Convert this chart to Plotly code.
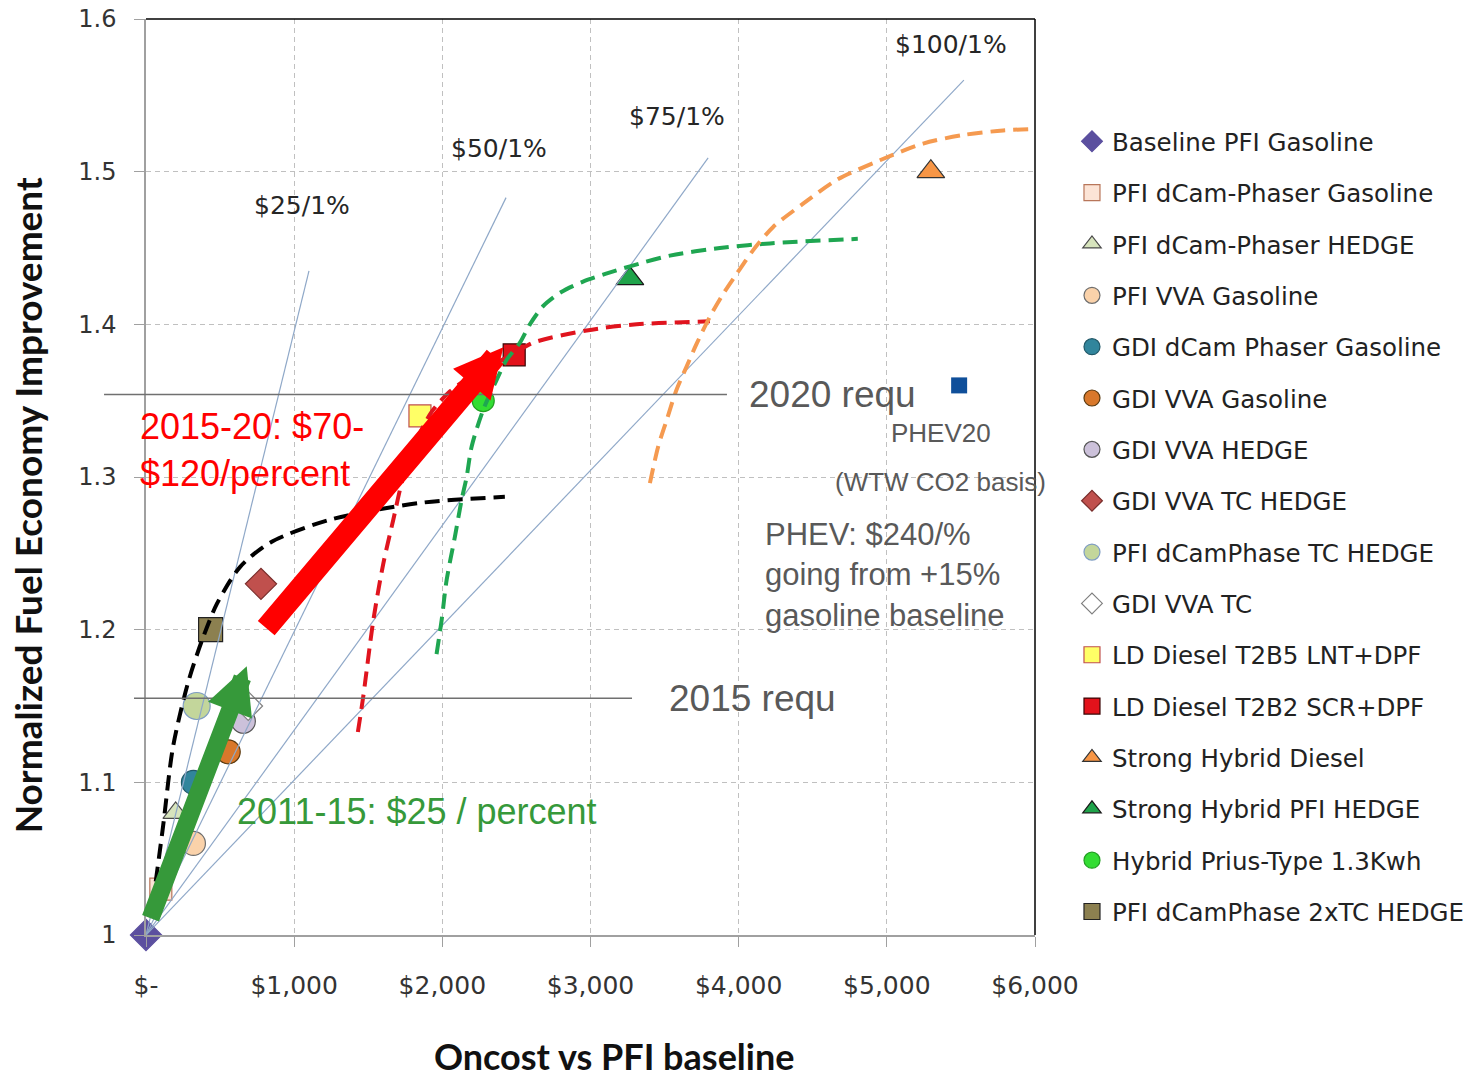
import plotly.graph_objects as go

# technology points
tech_names = [
    "Baseline PFI Gasoline", "PFI dCam-Phaser Gasoline", "PFI dCam-Phaser HEDGE",
    "PFI VVA Gasoline", "GDI dCam Phaser Gasoline", "GDI VVA Gasoline", "GDI VVA HEDGE",
    "GDI VVA TC HEDGE", "PFI dCamPhase TC HEDGE", "GDI VVA TC", "LD Diesel T2B5 LNT+DPF",
    "LD Diesel T2B2 SCR+DPF", "Strong Hybrid Diesel", "Strong Hybrid PFI HEDGE",
    "Hybrid Prius-Type 1.3Kwh", "PFI dCamPhase 2xTC HEDGE",
]
tech_cost = [0, 100, 200, 320, 320, 555, 657, 776, 342, 690, 1849, 2485, 5297, 3266, 2276, 436]
tech_fe = [1.00, 1.03, 1.08, 1.06, 1.10, 1.12, 1.14, 1.23, 1.15, 1.15, 1.34, 1.38, 1.50, 1.43, 1.35, 1.20]

phev_cost = [5488]
phev_fe = [1.36]

# constant cost-per-percent reference lines (start at baseline)
cpp_labels = ["$25/1%", "$50/1%", "$75/1%", "$100/1%"]
cpp_end_cost = [1100, 2430, 3794, 5520]
cpp_end_fe = [1.435, 1.483, 1.509, 1.560]
cpp_label_cost = [1053, 2382, 3583, 5432]
cpp_label_fe = [1.478, 1.515, 1.536, 1.583]

# dashed trend curves
black_x = [45, 115, 182, 283, 378, 479, 634, 837, 1241, 1849, 2422]
black_y = [1.02, 1.071, 1.123, 1.165, 1.193, 1.217, 1.241, 1.257, 1.272, 1.283, 1.287]
red_x = [1430, 1466, 1534, 1601, 1669, 1736, 1830, 1930, 2050, 2166, 2485, 2614, 2974, 3311, 3806]
red_y = [1.133, 1.156, 1.206, 1.243, 1.272, 1.300, 1.325, 1.343, 1.356, 1.364, 1.381, 1.388, 1.396, 1.400, 1.402]
green_x = [1961, 1995, 2029, 2085, 2130, 2164, 2198, 2276, 2366, 2433, 2524, 2591, 2681, 2800, 2950,
           3100, 3266, 3536, 3873, 4211, 4804]
green_y = [1.184, 1.206, 1.2325, 1.261, 1.285, 1.300, 1.320, 1.344, 1.3635, 1.3766, 1.388, 1.400, 1.412,
           1.421, 1.428, 1.433, 1.438, 1.445, 1.450, 1.453, 1.456]
orange_x = [3401, 3457, 3513, 3580, 3647, 3715, 3806, 3896, 3986, 4098, 4233, 4435, 4660, 4953, 5245,
            5515, 5785, 6010]
orange_y = [1.296, 1.320, 1.337, 1.357, 1.372, 1.387, 1.405, 1.420, 1.433, 1.4486, 1.4638, 1.479, 1.4945,
            1.5075, 1.5184, 1.524, 1.527, 1.528]

# requirement levels
req_labels = ["2015 requ", "2020 requ"]
req_fe = [1.155, 1.354]

# arrows: (tail cost, tail fe) -> (tip cost, tip fe)
green_arrow = [27, 1.01, 680, 1.176]
red_arrow = [803, 1.20, 2412, 1.385]

x_tick_vals = [0, 1000, 2000, 3000, 4000, 5000, 6000]
x_tick_text = ["$-", "$1,000", "$2,000", "$3,000", "$4,000", "$5,000", "$6,000"]
y_tick_vals = [1.0, 1.1, 1.2, 1.3, 1.4, 1.5, 1.6]
y_tick_text = ["1", "1.1", "1.2", "1.3", "1.4", "1.5", "1.6"]

# marker styles, in legend order: symbol, size, fill, outline
styles = [
    ("diamond", 24, "#5B4F9F", "#5B4F9F"),
    ("square", 22, "#FCE4D6", "#B8765A"),
    ("triangle-up", 22, "#D7E4BD", "#4A4A4A"),
    ("circle", 24, "#FAD2AA", "#6E6E6E"),
    ("circle", 24, "#31859C", "#215868"),
    ("circle", 24, "#D9782B", "#5A3A10"),
    ("circle", 24, "#CCC1DA", "#555555"),
    ("diamond", 24, "#C0504D", "#7A2E2C"),
    ("circle", 27, "#C3D69B", "#7F9DC3"),
    ("diamond", 22, "#FFFFFF", "#808080"),
    ("square", 22, "#FFFF66", "#C0504D"),
    ("square", 22, "#E3121B", "#3A0505"),
    ("triangle-up", 24, "#F79646", "#333333"),
    ("triangle-up", 24, "#1FA34A", "#1A1A1A"),
    ("circle", 22, "#33DD33", "#22A022"),
    ("square", 24, "#8C8050", "#222222"),
]

fig = go.Figure()

for i, name in enumerate(tech_names):
    sym, size, fill, edge = styles[i]
    fig.add_trace(go.Scatter(
        x=[tech_cost[i]], y=[tech_fe[i]], mode="markers", name=name,
        legendgroup=name, cliponaxis=False,
        marker=dict(symbol=sym, size=size, color=fill, line=dict(color=edge, width=1.2)),
    ))

fig.add_trace(go.Scatter(x=phev_cost, y=phev_fe, mode="markers", showlegend=False,
                         marker=dict(symbol="square", size=16, color="#0F4F9A")))

for i in range(len(cpp_labels)):
    fig.add_trace(go.Scatter(x=[0, cpp_end_cost[i]], y=[1.0, cpp_end_fe[i]], mode="lines",
                             showlegend=False, line=dict(color="#8FA8C8", width=1.2)))

dash = "15px,8px"
for xs, ys, col in [(black_x, black_y, "#000000"), (red_x, red_y, "#E0141E"),
                    (green_x, green_y, "#1FA651"), (orange_x, orange_y, "#F59A50")]:
    fig.add_trace(go.Scatter(x=xs, y=ys, mode="lines", showlegend=False,
                             line=dict(color=col, width=4, dash=dash, shape="spline", smoothing=0.8)))

annotations = []
for i, lab in enumerate(cpp_labels):
    annotations.append(dict(x=cpp_label_cost[i], y=cpp_label_fe[i], text=lab, showarrow=False,
                            font=dict(family="DejaVu Sans", size=25, color="#262626")))

for arr, col, w, head in [(green_arrow, "#36993A", 18, 9.4), (red_arrow, "#FF0000", 22, 9.8)]:
    annotations.append(dict(x=arr[2], y=arr[3], ax=arr[0], ay=arr[1], axref="x", ayref="y",
                            xref="x", yref="y", text="", showarrow=True, arrowhead=2,
                            arrowsize=head / w, arrowwidth=w, arrowcolor=col, standoff=0))

gray = "#595959"
arial = "Liberation Sans, Arial"
annotations += [
    dict(x=4055, y=req_fe[1], text=req_labels[1], xanchor="left", showarrow=False,
         font=dict(family=arial, size=37, color=gray)),
    dict(x=3516, y=req_fe[0], text=req_labels[0], xanchor="left", showarrow=False,
         font=dict(family=arial, size=37, color=gray)),
    dict(x=5364, y=1.329, text="PHEV20", showarrow=False,
         font=dict(family=arial, size=26, color=gray)),
    dict(x=5364, y=1.297, text="(WTW CO2 basis)", showarrow=False,
         font=dict(family=arial, size=26, color=gray)),
    dict(x=4163, y=1.2357, text="PHEV: $240/%<br>going from +15%<br>gasoline baseline",
         xanchor="left", align="left", showarrow=False,
         font=dict(family=arial, size=31, color=gray)),
    dict(xref="paper", x=-0.009, y=1.318, text="2015-20: $70-<br>$120/percent", xanchor="left",
         align="left", showarrow=False, font=dict(family=arial, size=36, color="#FF0000")),
    dict(x=600, y=1.0812, text="2011-15: $25 / percent", xanchor="left", showarrow=False,
         font=dict(family=arial, size=36, color="#36993A")),
    dict(xref="paper", yref="paper", x=-0.1339, y=0.469, xanchor="center", yanchor="middle",
         text="<b>Normalized Fuel Economy Improvement</b>", textangle=-90, showarrow=False,
         font=dict(family="Lato", size=37, color="#111111")),
    dict(xref="paper", yref="paper", x=0.5264, y=-0.1325, xanchor="center", yanchor="middle",
         text="<b>Oncost vs PFI baseline</b>", showarrow=False,
         font=dict(family="Lato", size=36, color="#111111")),
]

shapes = [
    dict(type="line", xref="paper", yref="y", x0=-0.0135, x1=0.5467, y0=req_fe[0], y1=req_fe[0],
         line=dict(color="#707070", width=1.5)),
    dict(type="line", xref="paper", yref="y", x0=-0.0472, x1=0.6535, y0=req_fe[1], y1=req_fe[1],
         line=dict(color="#707070", width=1.5)),
    dict(type="line", xref="paper", yref="paper", x0=0, x1=1, y0=1, y1=1,
         line=dict(color="#000000", width=1.5)),
    dict(type="line", xref="paper", yref="paper", x0=1, x1=1, y0=0, y1=1,
         line=dict(color="#000000", width=1.5)),
]

fig.update_layout(
    width=1471, height=1079,
    margin=dict(l=146, r=436, t=19, b=144, autoexpand=False),
    paper_bgcolor="white", plot_bgcolor="white",
    font=dict(family="DejaVu Sans", color="#222222"),
    showlegend=True,
    legend=dict(x=1.0416, y=0.891, xanchor="left", yanchor="top", traceorder="grouped",
                tracegroupgap=16.5, font=dict(family="DejaVu Sans", size=24.5, color="#222222"),
                bgcolor="rgba(0,0,0,0)"),
    annotations=annotations,
    shapes=shapes,
)
fig.update_xaxes(range=[0, 6000], tickvals=x_tick_vals, ticktext=x_tick_text, automargin=False,
                 showgrid=True, gridcolor="#C0C0C0", griddash="5px,4px", gridwidth=1,
                 showline=True, linecolor="#A0A0A0", linewidth=1.5, zeroline=False,
                 ticks="outside", ticklen=10, tickcolor="#A0A0A0", ticklabelstandoff=17,
                 ticklabeloverflow="allow",
                 tickfont=dict(family="DejaVu Sans", size=25, color="#333333"))
fig.update_yaxes(range=[1.0, 1.6], tickvals=y_tick_vals, ticktext=y_tick_text, automargin=False,
                 showgrid=True, gridcolor="#C0C0C0", griddash="5px,4px", gridwidth=1,
                 showline=True, linecolor="#A0A0A0", linewidth=1.5, zeroline=False,
                 ticks="outside", ticklen=10, tickcolor="#A0A0A0", ticklabelstandoff=13,
                 ticklabeloverflow="allow",
                 tickfont=dict(family="DejaVu Sans", size=24, color="#333333"))

# drop the default page margin so the figure sits at the window's top-left corner
fig.write_html("out.html", config={"displayModeBar": False},
               post_script="document.body.style.margin = '0';")
